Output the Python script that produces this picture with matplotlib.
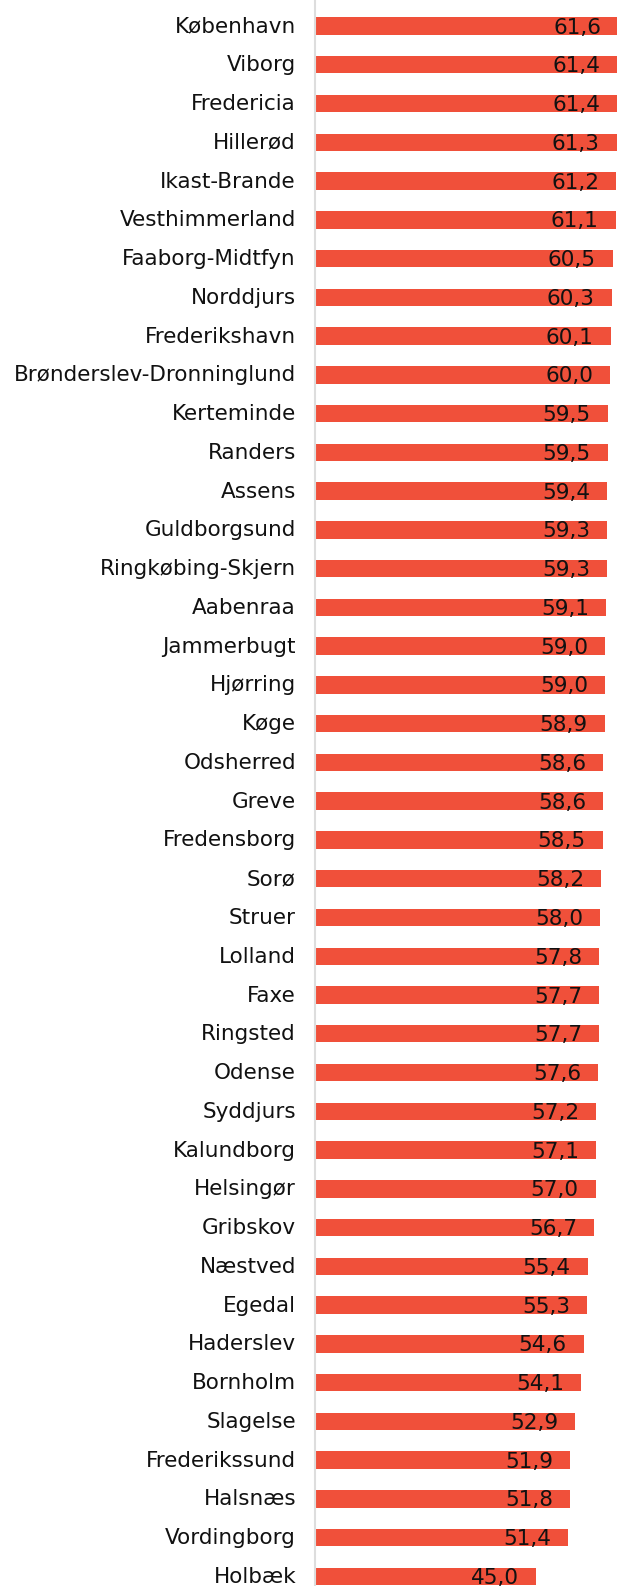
import matplotlib
matplotlib.use("Agg")
import matplotlib.pyplot as plt

categories = ["København", "Viborg", "Fredericia", "Hillerød", "Ikast-Brande",
              "Vesthimmerland", "Faaborg-Midtfyn", "Norddjurs", "Frederikshavn",
              "Brønderslev-Dronninglund", "Kerteminde", "Randers", "Assens",
              "Guldborgsund", "Ringkøbing-Skjern", "Aabenraa", "Jammerbugt",
              "Hjørring", "Køge", "Odsherred", "Greve", "Fredensborg", "Sorø",
              "Struer", "Lolland", "Faxe", "Ringsted", "Odense", "Syddjurs",
              "Kalundborg", "Helsingør", "Gribskov", "Næstved", "Egedal",
              "Haderslev", "Bornholm", "Slagelse", "Frederikssund", "Halsnæs",
              "Vordingborg", "Holbæk"]
values = [61.6, 61.4, 61.4, 61.3, 61.2, 61.1, 60.5, 60.3, 60.1, 60.0,
          59.5, 59.5, 59.4, 59.3, 59.3, 59.1, 59.0, 59.0, 58.9, 58.6,
          58.6, 58.5, 58.2, 58.0, 57.8, 57.7, 57.7, 57.6, 57.2, 57.1,
          57.0, 56.7, 55.4, 55.3, 54.6, 54.1, 52.9, 51.9, 51.8, 51.4, 45.0]

BAR_COLOR = "#F0503A"
FS = 15.5

plt.rcParams['font.family'] = ['DejaVu Sans']

fig = plt.figure(figsize=(6.17, 15.86), dpi=100)
ax = fig.add_axes([314.5 / 617, 0, 1 - 314.5 / 617, 1])

pos = list(range(len(categories)))
ax.barh(pos, values, height=0.45, color=BAR_COLOR, edgecolor='none')

for i, (c, v) in enumerate(zip(categories, values)):
    ax.annotate(f"{v:.1f}".replace('.', ','), xy=(v, i), xytext=(-17, -7.5),
                textcoords='offset pixels', ha='right', va='baseline',
                fontsize=FS, color='#111111', annotation_clip=False)
    ax.annotate(c, xy=(0, i), xytext=(-18.5, -6.5),
                textcoords='offset pixels', ha='right', va='baseline',
                fontsize=FS, color='#111111', annotation_clip=False)

ax.set_xlim(0, 61.36)
ax.set_ylim(-0.671 + 1586 / 38.76, -0.671)
ax.set_yticks([])
ax.set_xticks([])
for s in ['top', 'right', 'bottom']:
    ax.spines[s].set_visible(False)
ax.spines['left'].set_color('#dddddd')
ax.spines['left'].set_linewidth(1.5)

fig.savefig("out.png", dpi=100)
